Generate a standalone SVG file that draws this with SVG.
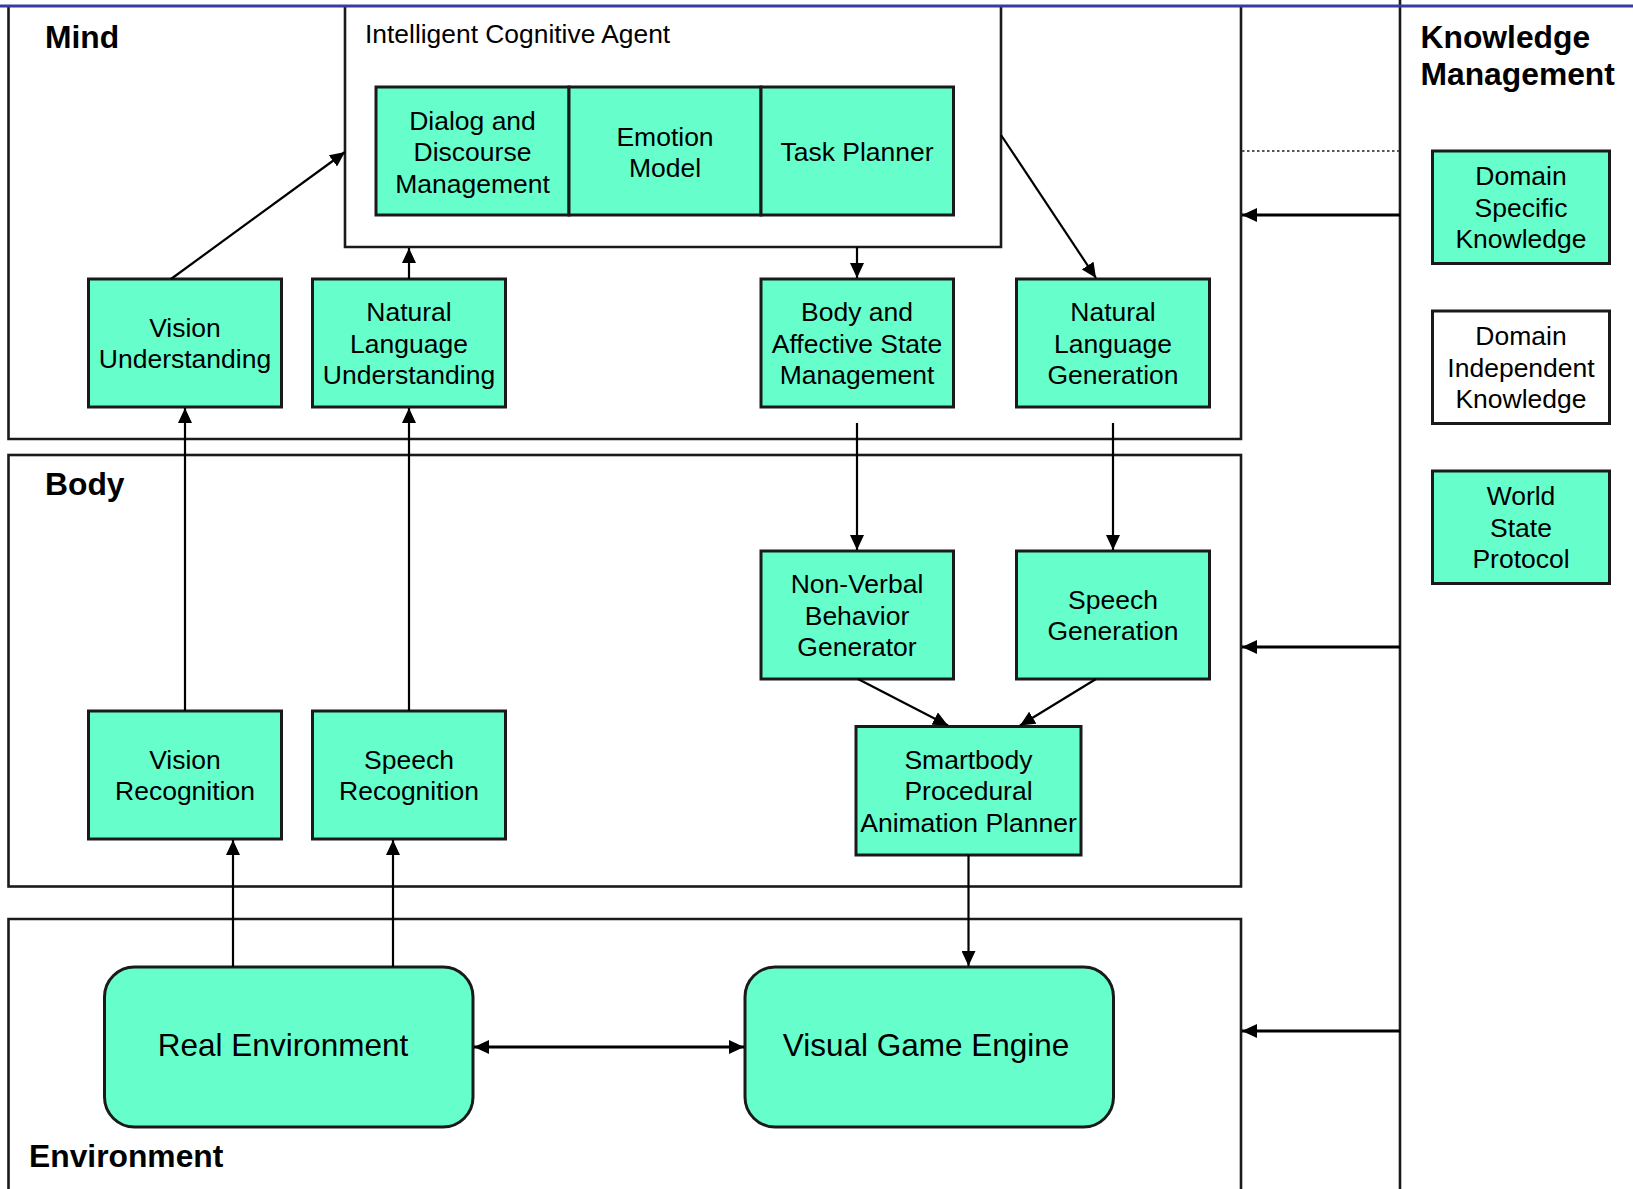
<svg xmlns="http://www.w3.org/2000/svg" width="1633" height="1189" viewBox="0 0 1633 1189">
<style>
.frame{fill:none;stroke:#1a1a1a;stroke-width:2.6}
.node{fill:#66ffcc;stroke:#1a1a1a;stroke-width:3}
.white{fill:#ffffff;stroke:#1a1a1a;stroke-width:3}
.t{font-family:"Liberation Sans",Arial,sans-serif;font-size:26.5px;fill:#000;text-anchor:middle}
.big{font-family:"Liberation Sans",Arial,sans-serif;font-size:31.5px;fill:#000;text-anchor:middle}
.lbl{font-family:"Liberation Sans",Arial,sans-serif;font-size:31.8px;font-weight:bold;fill:#000}
.ica{font-family:"Liberation Sans",Arial,sans-serif;font-size:26.4px;fill:#000}
.c{fill:none;stroke:#000;stroke-width:2.2}
.ck{fill:none;stroke:#000;stroke-width:3}
</style>
<defs>
<marker id="ah" viewBox="0 0 15 14" refX="15" refY="7" markerWidth="15" markerHeight="14" markerUnits="userSpaceOnUse" orient="auto-start-reverse">
<path d="M0,0 L15,7 L0,14 Z" fill="#000"/>
</marker>
</defs>
<rect width="1633" height="1189" fill="#ffffff"/>

<g id="frames">
<path id="mind" class="frame" d="M8.5,6 V439 H1241 V6"/>
<rect id="body" class="frame" x="8.5" y="455" width="1232.5" height="431.5"/>
<path id="environment" class="frame" d="M8.5,1192 V919 H1241 V1192"/>
<line x1="1400" y1="0" x2="1400" y2="1189" stroke="#1a1a1a" stroke-width="2.6"/>
<path id="ica" class="frame" d="M345,6 V247 H1001 V6"/>
<line x1="0" y1="6" x2="1633" y2="6" stroke="#3a3aa0" stroke-width="3"/>
</g>

<g id="labels">
<text class="lbl" x="45" y="48">Mind</text>
<text class="lbl" x="45" y="495">Body</text>
<text class="lbl" x="29" y="1167">Environment</text>
<text class="lbl" x="1420.5" y="48">Knowledge</text>
<text class="lbl" x="1420.5" y="85">Management</text>
<text class="ica" x="365" y="42.7">Intelligent Cognitive Agent</text>
</g>

<g id="n-dialog"><rect class="node" x="376" y="87" width="193" height="128"/>
<text class="t" x="472.5" y="130">Dialog and</text><text class="t" x="472.5" y="161">Discourse</text><text class="t" x="472.5" y="192.5">Management</text></g>
<g id="n-emotion"><rect class="node" x="569" y="87" width="192" height="128"/>
<text class="t" x="665" y="145.5">Emotion</text><text class="t" x="665" y="177">Model</text></g>
<g id="n-task"><rect class="node" x="761" y="87" width="192.5" height="128"/>
<text class="t" x="857" y="160.5">Task Planner</text></g>

<g id="n-vu"><rect class="node" x="88.5" y="279" width="193" height="128"/>
<text class="t" x="185" y="336.5">Vision</text><text class="t" x="185" y="368">Understanding</text></g>
<g id="n-nlu"><rect class="node" x="312.5" y="279" width="193" height="128"/>
<text class="t" x="409" y="321">Natural</text><text class="t" x="409" y="352.5">Language</text><text class="t" x="409" y="384">Understanding</text></g>
<g id="n-basm"><rect class="node" x="761" y="279" width="192.5" height="128"/>
<text class="t" x="857" y="321">Body and</text><text class="t" x="857" y="352.5">Affective State</text><text class="t" x="857" y="384">Management</text></g>
<g id="n-nlg"><rect class="node" x="1016.5" y="279" width="193" height="128"/>
<text class="t" x="1113" y="321">Natural</text><text class="t" x="1113" y="352.5">Language</text><text class="t" x="1113" y="384">Generation</text></g>

<g id="n-nvbg"><rect class="node" x="761" y="551" width="192.5" height="128"/>
<text class="t" x="857" y="593">Non-Verbal</text><text class="t" x="857" y="624.5">Behavior</text><text class="t" x="857" y="656">Generator</text></g>
<g id="n-sg"><rect class="node" x="1016.5" y="551" width="193" height="128"/>
<text class="t" x="1113" y="608.5">Speech</text><text class="t" x="1113" y="640">Generation</text></g>
<g id="n-sb"><rect class="node" x="856" y="726.5" width="225" height="128.5"/>
<text class="t" x="968.5" y="768.5">Smartbody</text><text class="t" x="968.5" y="800">Procedural</text><text class="t" x="968.5" y="831.5">Animation Planner</text></g>
<g id="n-vr"><rect class="node" x="88.5" y="711" width="193" height="128"/>
<text class="t" x="185" y="768.5">Vision</text><text class="t" x="185" y="800">Recognition</text></g>
<g id="n-sr"><rect class="node" x="312.5" y="711" width="193" height="128"/>
<text class="t" x="409" y="768.5">Speech</text><text class="t" x="409" y="800">Recognition</text></g>

<g id="n-re"><rect class="node" x="104.5" y="967" width="368.5" height="160" rx="30" ry="30"/>
<text class="big" x="283" y="1056">Real Environment</text></g>
<g id="n-vge"><rect class="node" x="745" y="967" width="368.5" height="160" rx="30" ry="30"/>
<text class="big" x="926" y="1056">Visual Game Engine</text></g>

<g id="n-dsk"><rect class="node" x="1432.5" y="151" width="177" height="112.5"/>
<text class="t" x="1521" y="185">Domain</text><text class="t" x="1521" y="216.5">Specific</text><text class="t" x="1521" y="248">Knowledge</text></g>
<g id="n-dik"><rect class="white" x="1432.5" y="311" width="177" height="112.5"/>
<text class="t" x="1521" y="345">Domain</text><text class="t" x="1521" y="376.5">Independent</text><text class="t" x="1521" y="408">Knowledge</text></g>
<g id="n-wsp"><rect class="node" x="1432.5" y="471" width="177" height="112.5"/>
<text class="t" x="1521" y="505">World</text><text class="t" x="1521" y="536.5">State</text><text class="t" x="1521" y="568">Protocol</text></g>

<g id="connectors">
<line class="c" x1="171" y1="279" x2="345" y2="152" marker-end="url(#ah)"/>
<line class="c" x1="409" y1="279" x2="409" y2="248" marker-end="url(#ah)"/>
<line class="c" x1="857" y1="247" x2="857" y2="278" marker-end="url(#ah)"/>
<line class="c" x1="1001" y1="135" x2="1096" y2="278" marker-end="url(#ah)"/>
<line class="c" x1="185" y1="711" x2="185" y2="408" marker-end="url(#ah)"/>
<line class="c" x1="409" y1="711" x2="409" y2="408" marker-end="url(#ah)"/>
<line class="c" x1="857" y1="423" x2="857" y2="550" marker-end="url(#ah)"/>
<line class="c" x1="1113" y1="423" x2="1113" y2="550" marker-end="url(#ah)"/>
<line class="c" x1="858" y1="679" x2="948" y2="725.5" marker-end="url(#ah)"/>
<line class="c" x1="1096" y1="679" x2="1020" y2="725.5" marker-end="url(#ah)"/>
<line class="c" x1="968.5" y1="855" x2="968.5" y2="966" marker-end="url(#ah)"/>
<line class="c" x1="233" y1="967" x2="233" y2="840" marker-end="url(#ah)"/>
<line class="c" x1="393" y1="967" x2="393" y2="840" marker-end="url(#ah)"/>
<line class="ck" x1="474" y1="1047" x2="744" y2="1047" marker-start="url(#ah)" marker-end="url(#ah)"/>
<line class="ck" x1="1400" y1="215" x2="1242" y2="215" marker-end="url(#ah)"/>
<line class="ck" x1="1400" y1="647" x2="1242" y2="647" marker-end="url(#ah)"/>
<line class="ck" x1="1400" y1="1031" x2="1242" y2="1031" marker-end="url(#ah)"/>
<line x1="1242" y1="151" x2="1399" y2="151" stroke="#555" stroke-width="2" stroke-dasharray="2.5 2.5"/>
</g>
</svg>
